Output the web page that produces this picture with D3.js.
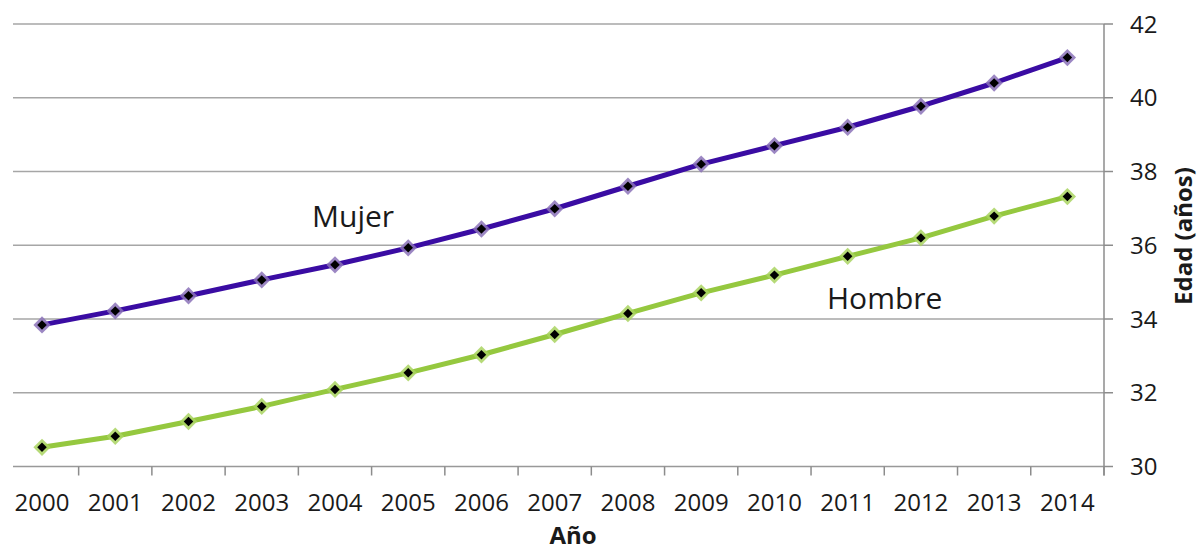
<!DOCTYPE html>
<head>
  <meta charset="utf-8">
  <script src="https://d3js.org/d3.v7.min.js"></script>
  <style>
    body { margin:0; background:white; }
    text { font-family: 'Open Sans', sans-serif; fill: #1a1a1a; }
    .tick-label { font-size: 24px; }
    .series-label { font-size: 30px; }
    .axis-title { font-size: 24px; font-weight: 700; }
  </style>
</head>
<body>
  <script>
    // data
    const years = ['2000','2001','2002','2003','2004','2005','2006','2007','2008','2009','2010','2011','2012','2013','2014'];
    const mujer = [33.84, 34.22, 34.63, 35.06, 35.47, 35.93, 36.44, 36.99, 37.60, 38.20, 38.70, 39.20, 39.77, 40.40, 41.09];
    const hombre = [30.52, 30.82, 31.22, 31.63, 32.09, 32.54, 33.03, 33.58, 34.15, 34.71, 35.19, 35.70, 36.20, 36.79, 37.32];
    const yTicks = [30, 32, 34, 36, 38, 40, 42];

    const width = 1198, height = 552;
    const plot = { left: 5.4, right: 1104, top: 24, bottom: 466.5, gridStart: 13 };

    const svg = d3.select('body').append('svg')
      .attr('width', width)
      .attr('height', height);

    const x = d3.scaleBand().domain(years).range([plot.left, plot.right]);
    const y = d3.scaleLinear().domain([30, 42]).range([plot.bottom, plot.top]);

    // horizontal gridlines
    svg.append('g')
      .selectAll('line')
      .data(yTicks)
      .enter().append('line')
      .attr('x1', plot.gridStart)
      .attr('x2', plot.right)
      .attr('y1', d => y(d))
      .attr('y2', d => y(d))
      .style('stroke', d => d === 30 ? '#999' : '#a6a6a6')
      .style('stroke-width', 1.5);

    // right value axis
    const yAxis = svg.append('g');
    yAxis.append('line')
      .attr('x1', plot.right).attr('x2', plot.right)
      .attr('y1', plot.top).attr('y2', plot.bottom + 9)
      .style('stroke', '#8c8c8c').style('stroke-width', 1.5);
    yAxis.selectAll('.ytick')
      .data(yTicks)
      .enter().append('line')
      .attr('x1', plot.right).attr('x2', plot.right + 9)
      .attr('y1', d => y(d)).attr('y2', d => y(d))
      .style('stroke', '#8c8c8c').style('stroke-width', 1.5);
    yAxis.selectAll('text')
      .data(yTicks)
      .enter().append('text')
      .classed('tick-label', true)
      .attr('x', plot.right + 26)
      .attr('y', d => y(d))
      .attr('dy', '0.36em')
      .text(d => d);

    // category ticks between years and at the right end
    const bounds = years.slice(1).map(d => x(d)).concat([plot.right]);
    svg.append('g')
      .selectAll('line')
      .data(bounds)
      .enter().append('line')
      .attr('x1', d => d).attr('x2', d => d)
      .attr('y1', plot.bottom).attr('y2', plot.bottom + 9)
      .style('stroke', '#8c8c8c').style('stroke-width', 1.5);
    svg.append('g')
      .selectAll('text')
      .data(years)
      .enter().append('text')
      .classed('tick-label', true)
      .attr('x', d => x(d) + x.bandwidth() / 2)
      .attr('y', 511)
      .attr('text-anchor', 'middle')
      .text(d => d);

    // axis titles
    svg.append('text')
      .classed('axis-title', true)
      .attr('x', 573).attr('y', 544)
      .attr('text-anchor', 'middle')
      .text('Año');
    svg.append('text')
      .classed('axis-title', true)
      .attr('transform', 'translate(1184, 236) rotate(-90)')
      .attr('text-anchor', 'middle')
      .attr('dy', '0.35em')
      .text('Edad (años)');

    // series
    const series = [
      { name: 'Mujer', values: mujer, color: '#3a0ca3', halo: '#8b72b8' },
      { name: 'Hombre', values: hombre, color: '#95c83f', halo: '#a9d460' }
    ];

    const line = d3.line()
      .x((d, i) => x(years[i]) + x.bandwidth() / 2)
      .y(d => y(d));

    const diamond = d3.symbol().type(d3.symbolSquare);

    series.forEach(s => {
      svg.append('path')
        .datum(s.values)
        .attr('d', line)
        .style('fill', 'none')
        .style('stroke', s.color)
        .style('stroke-width', 5)
        .style('stroke-linejoin', 'round');

      const marks = svg.append('g')
        .selectAll('g')
        .data(s.values)
        .enter().append('g')
        .attr('transform', (d, i) => `translate(${x(years[i]) + x.bandwidth() / 2}, ${y(d)}) rotate(45)`);
      marks.append('path')
        .attr('d', diamond.size(150)())
        .style('fill', s.halo)
        .style('opacity', 0.85);
      marks.append('path')
        .attr('d', diamond.size(45)())
        .style('fill', '#000');
    });

    // series labels
    svg.append('text')
      .classed('series-label', true)
      .attr('x', 312).attr('y', 227)
      .text('Mujer');
    svg.append('text')
      .classed('series-label', true)
      .attr('x', 827).attr('y', 309)
      .text('Hombre');
  </script>
</body>
